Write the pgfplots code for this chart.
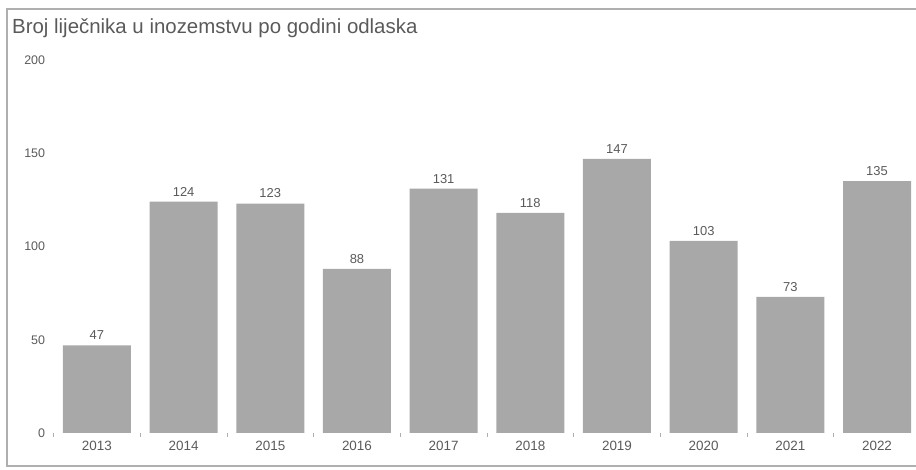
\documentclass[border=0pt]{standalone}
\usepackage{fontspec}
\setmainfont{Liberation Sans}
\usepackage{pgfplots}
\pgfplotsset{compat=1.18}
\begin{document}
\begin{tikzpicture}[x=1bp,y=1bp]
\definecolor{barc}{RGB}{168,168,168}
\definecolor{txtc}{RGB}{90,90,90}
\definecolor{framec}{RGB}{175,175,175}
\path[use as bounding box] (0,0) rectangle (916,470);
\draw[framec, line width=1.2bp] (916,461) -- (7,461) -- (7,4) -- (916,4);
\node[anchor=base west, font=\fontsize{20.5}{24}\selectfont, text=txtc, inner sep=0] at (12,436) {Broj liječnika u inozemstvu po godini odlaska};
\begin{axis}[
  at={(53.6bp,37bp)}, anchor=south west, scale only axis,
  width=862.4bp, height=373bp,
  xmin=-0.5, xmax=9.45, ymin=0, ymax=200,
  axis line style={draw=none},
  ybar, bar width=68bp,
  xtick={0,...,9},
  xticklabels={2013,2014,2015,2016,2017,2018,2019,2020,2021,2022},
  minor xtick={-0.5,0.5,...,8.5},
  ytick={0,50,100,150,200},
  tick align=outside, tick pos=left,
  major tick length=0pt, minor tick length=4bp,
  tick style={framec, line width=0.8bp},
  x tick label style={font=\fontsize{13.5}{15}\selectfont, text=txtc, yshift=-5bp},
  y tick label style={font=\fontsize{12.5}{14}\selectfont, text=txtc, xshift=-5bp},
  /pgf/number format/assume math mode=true,
  nodes near coords,
  every node near coord/.append style={font=\fontsize{13}{15}\selectfont, text=txtc, anchor=south, yshift=2bp},
]
\addplot[fill=barc, draw=none] coordinates {
(0,47) (1,124) (2,123) (3,88) (4,131) (5,118) (6,147) (7,103) (8,73) (9,135)
};
\end{axis}
\end{tikzpicture}
\end{document}
